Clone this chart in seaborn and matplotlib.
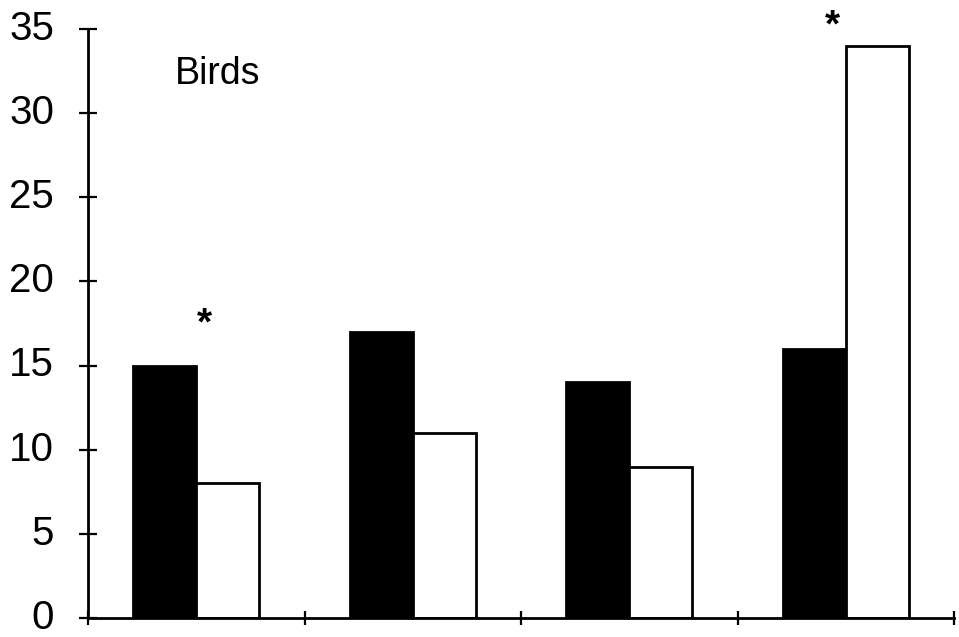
import matplotlib
matplotlib.use("Agg")
import matplotlib.pyplot as plt
from matplotlib.transforms import ScaledTranslation
import seaborn as sns
import pandas as pd

groups = ["G1", "G2", "G3", "G4"]
series_a = [15, 17, 14, 16]   # black bars
series_b = [8, 11, 9, 34]     # white bars
yticks = [0, 5, 10, 15, 20, 25, 30, 35]
star_groups = [0, 3]
star_y = [17.45, 35.15]
panel_label = "Birds"

df = pd.DataFrame({
    "group": groups * 2,
    "value": series_a + series_b,
    "series": ["A"] * len(groups) + ["B"] * len(groups),
})

sns.set_style("white")
plt.rcParams["font.family"] = ["Liberation Sans", "DejaVu Sans"]
plt.rcParams["text.color"] = "black"

fig = plt.figure(figsize=(9.59, 6.37), dpi=100)
ax = fig.add_axes([88 / 959, 19 / 637, (954 - 88) / 959, (618 - 29) / 637])

sns.barplot(data=df, x="group", y="value", hue="series", order=groups,
            palette=["black", "white"], edgecolor="black", linewidth=2,
            width=0.58, legend=False, ax=ax, saturation=1)

ax.set_xlim(-0.5, len(groups) - 0.5)
ax.set_ylim(0, 35)
ax.set_yticks(yticks)
ax.set_xticks([i - 0.5 for i in range(len(groups) + 1)])
ax.set_xticklabels([])
ax.set_xlabel("")
ax.set_ylabel("")

for s in ["top", "right"]:
    ax.spines[s].set_visible(False)
for s in ["left", "bottom"]:
    ax.spines[s].set_linewidth(2)
    ax.spines[s].set_color("black")

ax.tick_params(axis="y", direction="inout", length=13, width=1.6,
               labelsize=29, pad=18, colors="black")
ax.tick_params(axis="x", direction="inout", length=10, width=1.6, colors="black")
ax.tick_params(left=True, bottom=True)

shift = ScaledTranslation(0, 3 / 72, fig.dpi_scale_trans)
for lbl in ax.get_yticklabels():
    lbl.set_transform(lbl.get_transform() + shift)

for g, y in zip(star_groups, star_y):
    ax.text(g + 0.04 if g == 0 else g - 0.06, y, "*", ha="center", va="center",
            fontsize=28, fontweight="bold", color="black", clip_on=False)

ax.text(0.1, 32.3, panel_label, ha="center", va="center", fontsize=27, color="black")

fig.savefig("out.png", dpi=100)
